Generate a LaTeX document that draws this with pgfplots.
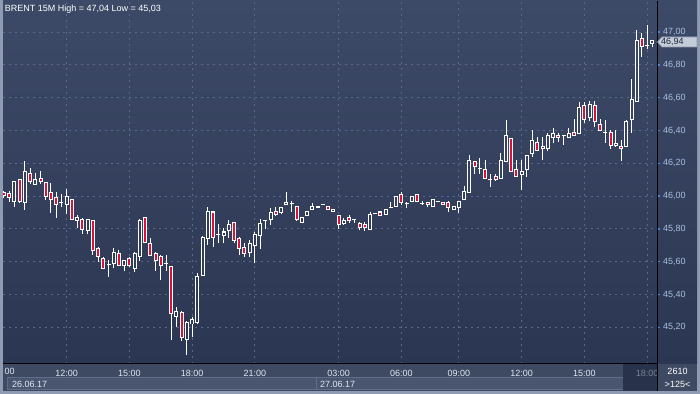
\documentclass[border=0pt]{standalone}
\usepackage{fontspec}
\setmainfont{Liberation Sans}
\usepackage{pgfplots}
\usepackage{pgfplotstable}
\pgfplotsset{compat=1.18}

\definecolor{frame}{RGB}{142,155,179}
\definecolor{bgtop}{RGB}{61,74,103}
\definecolor{bgbot}{RGB}{43,54,82}
\definecolor{panel}{RGB}{62,74,98}
\definecolor{datebox}{RGB}{74,86,112}
\definecolor{dateline}{RGB}{96,109,138}
\definecolor{darkbox}{RGB}{40,50,74}
\definecolor{gridc}{RGB}{88,104,138}
\definecolor{candred}{RGB}{218,18,58}
\definecolor{ylab}{RGB}{170,190,222}
\definecolor{xlab}{RGB}{225,232,244}
\definecolor{xgray}{RGB}{120,130,150}
\definecolor{tickblue}{RGB}{60,140,225}
\definecolor{pricebox}{RGB}{196,204,216}
\definecolor{pricetext}{RGB}{30,40,64}
\definecolor{bandA}{RGB}{57,70,98}
\definecolor{bandB}{RGB}{54,66,95}
\definecolor{bandC}{RGB}{52,64,92}
\definecolor{bandD}{RGB}{49,61,89}
\definecolor{bandE}{RGB}{47,58,86}
\definecolor{bandF}{RGB}{45,56,84}

\pgfplotstableread{
i O H L C
0 46.021 46.030 45.990 46.001
1 46.013 46.033 45.966 45.992
2 45.966 46.090 45.936 46.090
3 46.102 46.106 45.960 45.966
4 45.962 46.214 45.915 46.151
5 46.135 46.171 46.074 46.088
6 46.072 46.139 46.072 46.102
7 46.108 46.151 46.076 46.092
8 46.080 46.086 45.978 45.998
9 46.023 46.080 45.899 45.980
10 45.992 46.023 45.868 45.950
11 45.962 46.015 45.931 45.962
12 45.950 46.043 45.889 45.998
13 45.980 45.984 45.858 45.858
14 45.852 45.883 45.807 45.870
15 45.858 45.868 45.769 45.797
16 45.791 45.858 45.767 45.858
17 45.852 45.852 45.641 45.669
18 45.681 45.687 45.600 45.633
19 45.620 45.631 45.553 45.561
20 45.580 45.610 45.509 45.580
21 45.590 45.681 45.559 45.657
22 45.651 45.671 45.574 45.578
23 45.574 45.610 45.541 45.610
24 45.620 45.627 45.570 45.574
25 45.557 45.657 45.539 45.651
26 45.631 45.860 45.606 45.852
27 45.868 45.875 45.718 45.718
28 45.710 45.744 45.635 45.639
29 45.651 45.659 45.545 45.608
30 45.631 45.639 45.488 45.578
31 45.590 45.639 45.545 45.590
32 45.572 45.572 45.122 45.281
33 45.267 45.322 45.200 45.297
34 45.289 45.297 45.118 45.139
35 45.126 45.236 45.029 45.232
36 45.220 45.265 45.143 45.248
37 45.228 45.529 45.220 45.509
38 45.517 45.757 45.517 45.746
39 45.742 45.931 45.702 45.907
40 45.903 45.907 45.692 45.746
41 45.767 45.830 45.716 45.767
42 45.761 45.803 45.716 45.781
43 45.789 45.854 45.746 45.828
44 45.840 45.840 45.716 45.732
45 45.744 45.752 45.639 45.681
46 45.687 45.712 45.629 45.651
47 45.655 45.732 45.631 45.712
48 45.700 45.783 45.590 45.767
49 45.761 45.860 45.679 45.830
50 45.852 45.852 45.797 45.852
51 45.856 45.925 45.824 45.901
52 45.907 45.933 45.881 45.889
53 45.901 45.931 45.891 45.931
54 45.950 46.023 45.950 45.962
55 45.956 45.970 45.905 45.956
56 45.937 45.937 45.850 45.858
57 45.840 45.872 45.840 45.872
58 45.883 45.907 45.883 45.907
59 45.919 45.960 45.919 45.937
60 45.933 45.937 45.933 45.937
61 45.949 45.951 45.949 45.951
62 45.937 45.937 45.917 45.917
63 45.907 45.919 45.907 45.919
64 45.883 45.883 45.797 45.828
65 45.834 45.864 45.824 45.854
66 45.870 45.885 45.838 45.850
67 45.860 45.860 45.838 45.856
68 45.830 45.844 45.793 45.809
69 45.824 45.840 45.789 45.807
70 45.797 45.903 45.797 45.885
71 45.891 45.895 45.891 45.895
72 45.903 45.911 45.883 45.883
73 45.887 45.919 45.887 45.919
74 45.931 45.966 45.931 45.933
75 45.939 46.000 45.935 46.000
76 46.010 46.025 45.947 45.962
77 45.954 45.966 45.929 45.954
78 45.966 46.000 45.966 46.000
79 46.010 46.010 45.962 45.970
80 45.954 45.970 45.947 45.954
81 45.962 45.962 45.931 45.948
82 45.935 45.980 45.935 45.980
83 45.968 45.970 45.968 45.970
84 45.962 45.962 45.950 45.950
85 45.962 45.970 45.905 45.931
86 45.919 45.939 45.919 45.939
87 45.929 45.970 45.899 45.970
88 45.980 46.062 45.980 46.029
89 46.021 46.250 46.021 46.220
90 46.214 46.214 46.135 46.179
91 46.169 46.234 46.135 46.169
92 46.163 46.220 46.106 46.106
93 46.104 46.135 46.057 46.102
94 46.122 46.135 46.094 46.102
95 46.106 46.265 46.106 46.220
96 46.212 46.464 46.212 46.370
97 46.352 46.352 46.149 46.149
98 46.163 46.220 46.118 46.118
99 46.131 46.220 46.037 46.151
100 46.163 46.249 46.118 46.249
101 46.261 46.403 46.240 46.342
102 46.328 46.362 46.281 46.281
103 46.289 46.362 46.220 46.305
104 46.289 46.382 46.273 46.370
105 46.358 46.415 46.322 46.383
106 46.370 46.382 46.330 46.358
107 46.370 46.370 46.310 46.370
108 46.358 46.415 46.358 46.383
109 46.389 46.470 46.370 46.370
110 46.383 46.574 46.383 46.541
111 46.553 46.574 46.448 46.468
112 46.480 46.580 46.458 46.560
113 46.553 46.580 46.419 46.452
114 46.438 46.470 46.401 46.401
115 46.387 46.464 46.326 46.387
116 46.389 46.403 46.289 46.306
117 46.306 46.403 46.301 46.322
118 46.305 46.342 46.216 46.289
119 46.301 46.464 46.301 46.452
120 46.468 46.712 46.387 46.590
121 46.576 47.013 46.576 46.948
122 46.962 46.997 46.850 46.911
123 46.921 47.043 46.897 46.921
124 46.932 46.946 46.911 46.946
}\candles

\pgfplotsset{
  candle/.style={draw=none, mark=none, forget plot,
    /pgfplots/error bars/y dir=plus,
    /pgfplots/error bars/y explicit,
    /pgfplots/error bars/error mark=none,
    /pgfplots/error bars/error bar style={#1}},
}
\newcommand{\bandplot}[3]{%
  \addplot[candle={draw=#1, line width=2bp}] table[x=i,
    y expr={and((\thisrow{O}+\thisrow{C})/2>=#2,(\thisrow{O}+\thisrow{C})/2<#3) ? min(\thisrow{O},\thisrow{C})+0.003 : 48},
    y error expr={max(abs(\thisrow{C}-\thisrow{O})-0.0061,0)}] {\candles};}

\begin{document}
\begin{tikzpicture}
\useasboundingbox (0,0) rectangle (700bp,394bp);
\fill[frame] (0,0) rectangle (700bp,394bp);
\shade[top color=bgtop, bottom color=bgbot] (3bp,30bp) rectangle (697bp,393bp);
\fill[panel] (3bp,3bp) rectangle (697bp,30bp);
\filldraw[fill=datebox, draw=dateline, line width=0.8bp] (7.5bp,4.5bp) rectangle (316bp,16.5bp);
\filldraw[fill=datebox, draw=dateline, line width=0.8bp] (316bp,4.5bp) rectangle (623bp,16.5bp);
\fill[darkbox] (623bp,3bp) rectangle (657bp,30bp);
\node[anchor=base west, inner sep=0pt, text=xlab, font=\fontsize{9bp}{10bp}\selectfont] at (12bp,7bp) {26.06.17};
\node[anchor=base west, inner sep=0pt, text=xlab, font=\fontsize{9bp}{10bp}\selectfont] at (320bp,7bp) {27.06.17};
\node[anchor=west, inner sep=0pt, text=xlab, font=\fontsize{9bp}{10bp}\selectfont] at (4.5bp,23bp) {00};

\begin{axis}[
  at={(3bp,30bp)}, anchor=south west, scale only axis,
  width=654bp, height=364bp,
  xmin=-0.172, xmax=124.87, ymin=44.976, ymax=47.196,
  axis line style={draw=none},
  xtick={12,24,36,48,64,76,87,99,111,123},
  xticklabels={12:00,15:00,18:00,21:00,03:00,06:00,09:00,12:00,15:00,\textcolor{xgray}{18:00}},
  xticklabel style={font=\fontsize{9bp}{10bp}\selectfont, text=xlab, anchor=center, yshift=-7bp},
  ytick={45.2,45.4,45.6,45.8,46.0,46.2,46.4,46.6,46.8,47.0},
  yticklabels={{45,20},{45,40},{45,60},{45,80},{46,00},{46,20},{46,40},{46,60},{46,80},{47,00}},
  yticklabel pos=right, ytick pos=right,
  yticklabel style={font=\fontsize{9bp}{10bp}\selectfont, text=ylab, anchor=west},
  grid=major,
  major grid style={draw=gridc, dash pattern=on 2bp off 4bp, line width=1bp},
  xtick style={draw=none},
  ytick style={draw=tickblue, line width=1.5bp},
  tick align=outside, major tick length=2.5bp,
]
% wicks
\addplot[candle={draw=white, line width=1bp}]
  table[x=i, y=L, y error expr=\thisrow{H}-\thisrow{L}] {\candles};
% body outline
\addplot[candle={draw=white, line width=4bp}]
  table[x=i, y expr={min(\thisrow{O},\thisrow{C})-0.003},
        y error expr={abs(\thisrow{C}-\thisrow{O})+0.0061}] {\candles};
% hollow interiors
\bandplot{bandA}{46.5}{48}
\bandplot{bandB}{46.2}{46.5}
\bandplot{bandC}{45.9}{46.2}
\bandplot{bandD}{45.6}{45.9}
\bandplot{bandE}{45.3}{45.6}
\bandplot{bandF}{44}{45.3}
% red interiors
\addplot[candle={draw=candred, line width=2bp}]
  table[x=i, y expr={\thisrow{C}<\thisrow{O} ? \thisrow{C}+0.003 : 48},
        y error expr={max(\thisrow{O}-\thisrow{C}-0.0061,0)}] {\candles};
\end{axis}

% separators and overlays
\fill[panel] (657bp,3bp) rectangle (697bp,30bp);
\draw[black, line width=1bp] (3bp,30bp) -- (657bp,30bp);
\draw[black, line width=1bp] (657bp,3bp) -- (657bp,393bp);
\node[text=white, font=\fontsize{9bp}{10bp}\selectfont, inner sep=0pt] at (677.5bp,23bp) {2610};
\node[text=white, font=\fontsize{9bp}{10bp}\selectfont, inner sep=0pt] at (677.5bp,10bp) {>125<};
\filldraw[fill=pricebox, draw=frame, line width=0.6bp] (657.5bp,352bp) -- (662bp,357bp) -- (697bp,357bp) -- (697bp,347bp) -- (662bp,347bp) -- cycle;
\node[anchor=west, inner sep=0pt, text=pricetext, font=\fontsize{9bp}{10bp}\selectfont] at (661bp,352bp) {46,94};
\node[anchor=base west, inner sep=0pt, text=white, font=\fontsize{9bp}{10bp}\selectfont] at (4.7bp,382.5bp) {BRENT 15M High = 47,04 Low = 45,03};
\end{tikzpicture}
\end{document}
